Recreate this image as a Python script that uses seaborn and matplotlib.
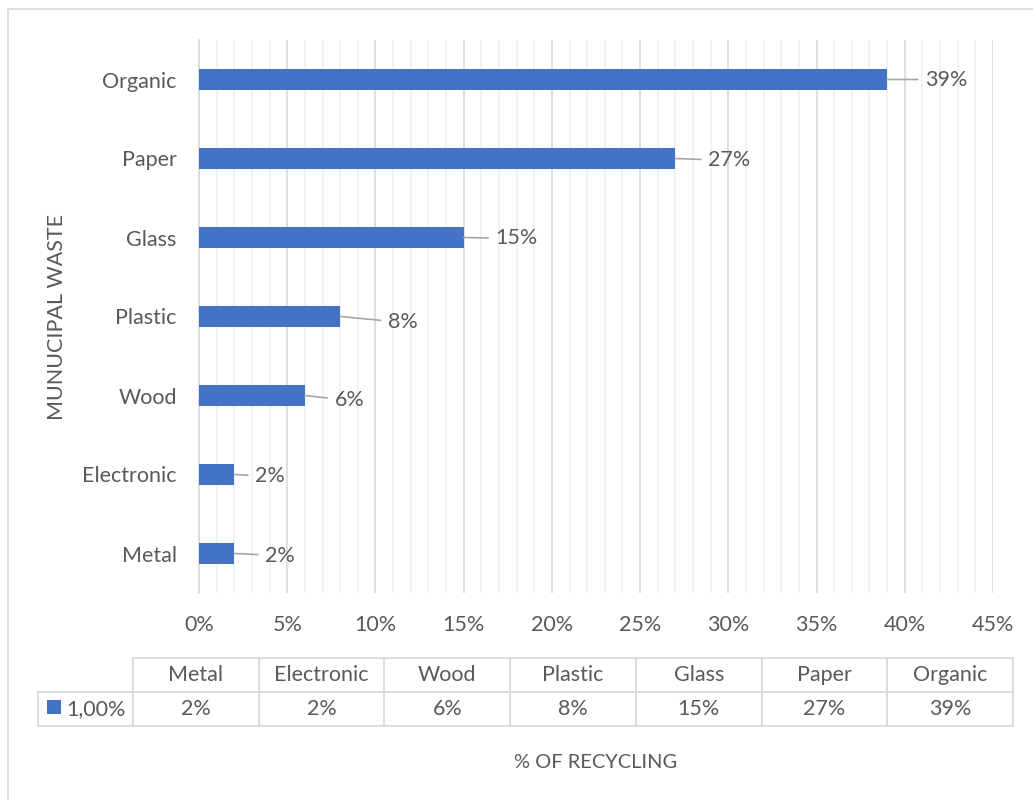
import matplotlib
matplotlib.use("Agg")
import matplotlib.pyplot as plt
from matplotlib.patches import Rectangle
from matplotlib.ticker import MultipleLocator, FuncFormatter, FixedLocator
import seaborn as sns
import pandas as pd

# Share of recycling by municipal waste type (%)
categories = ["Organic", "Paper", "Glass", "Plastic", "Wood", "Electronic", "Metal"]
values = [39, 27, 15, 8, 6, 2, 2]
series_name = "1,00%"
x_title = "% OF RECYCLING"
y_title = "MUNUCIPAL WASTE"

# label offsets (pixels right, pixels up) for the callouts
label_offsets = [(38, 0), (33, -2), (32, -1), (48, -6), (30, -5), (21, -2), (31, -2)]

BAR = "#4472C4"
TXT = "#595959"
GRID_MAJOR = "#d9d9d9"
GRID_MINOR = "#f0f0f0"
FS = 15.5

sns.set_theme(style="white")
plt.rcParams["font.family"] = ["Lato", "DejaVu Sans"]

W, H = 1033, 800
fig = plt.figure(figsize=(W / 100, H / 100), dpi=100)

# outer chart frame
fig.patches.append(Rectangle((8 / W, -0.05), 1.2, 1 - 9 / H + 0.05,
                             transform=fig.transFigure, fill=False,
                             edgecolor="#d9d9d9", linewidth=1.2))

left, right, top, bottom = 199, 993, 40, 593
ax = fig.add_axes([left / W, 1 - bottom / H, (right - left) / W, (bottom - top) / H])

df = pd.DataFrame({"category": categories, "value": values})
sns.barplot(data=df, x="value", y="category", orient="h", color=BAR,
            width=0.27, linewidth=0, ax=ax, zorder=3, saturation=1)

ax.set_xlim(0, 45)
ax.set_ylim(len(categories) - 0.5, -0.5)
ax.xaxis.set_major_locator(MultipleLocator(5))
ax.xaxis.set_minor_locator(MultipleLocator(1))
ax.xaxis.set_major_formatter(FuncFormatter(lambda v, p: f"{v:.0f}%"))
ax.grid(which="major", axis="x", color=GRID_MAJOR, linewidth=1.2, zorder=0)
ax.grid(which="minor", axis="x", color=GRID_MINOR, linewidth=1.2, zorder=0)
ax.grid(False, axis="y")
ax.set_axisbelow(True)

for s in ["top", "right", "bottom"]:
    ax.spines[s].set_visible(False)
ax.spines["left"].set_color(GRID_MAJOR)
ax.spines["left"].set_linewidth(1.2)

ax.tick_params(axis="x", which="both", length=0, pad=16, labelsize=FS, labelcolor=TXT)
ax.tick_params(axis="y", which="major", length=0, pad=16, labelsize=FS, labelcolor=TXT)
ax.yaxis.set_minor_locator(FixedLocator([i - 0.5 for i in range(len(categories) + 1)]))
ax.tick_params(axis="y", which="minor", length=5, width=1.2, color=GRID_MAJOR, direction="out")
ax.set_xlabel("")
ax.set_ylabel("")

# value callouts with leader lines
for i, (v, (dx, dy)) in enumerate(zip(values, label_offsets)):
    ax.annotate(f"{v}%", xy=(v, i), xytext=(dx * 0.72, dy * 0.72),
                textcoords="offset points", ha="left", va="center",
                fontsize=FS, color=TXT, zorder=5,
                arrowprops=dict(arrowstyle="-", color="#a6a6a6", linewidth=1.2,
                                shrinkA=3, shrinkB=0))

# data table under the chart, laid out in pixel units
tab_left, tab_right, tab_top, tab_bottom = 38, 1013, 658, 726
lab_right = 133
row_mid = (tab_top + tab_bottom) / 2
col_w = (tab_right - lab_right) / len(categories)

tax = fig.add_axes([0, 0, 1, 1], zorder=4)
tax.set_xlim(0, W)
tax.set_ylim(H, 0)
tax.set_axis_off()
tax.patch.set_alpha(0)

table_order = categories[::-1]
table_vals = values[::-1]
lk = dict(color=GRID_MAJOR, linewidth=1.3, solid_capstyle="projecting")
# horizontal rules
tax.plot([lab_right, tab_right], [tab_top, tab_top], **lk)
tax.plot([tab_left, tab_right], [row_mid, row_mid], **lk)
tax.plot([tab_left, tab_right], [tab_bottom, tab_bottom], **lk)
# vertical rules
tax.plot([tab_left, tab_left], [row_mid, tab_bottom], **lk)
for j in range(len(categories) + 1):
    xj = lab_right + j * col_w
    tax.plot([xj, xj], [tab_top, tab_bottom], **lk)

for j, (c, v) in enumerate(zip(table_order, table_vals)):
    xc = lab_right + (j + 0.5) * col_w
    tax.text(xc, (tab_top + row_mid) / 2, c, ha="center", va="center",
             fontsize=FS, color=TXT)
    tax.text(xc, (row_mid + tab_bottom) / 2, f"{v}%", ha="center", va="center",
             fontsize=FS, color=TXT)

# legend key and series name
tax.add_patch(Rectangle((47, 700), 14, 14, facecolor=BAR, edgecolor="none"))
tax.text(lab_right - 7, (row_mid + tab_bottom) / 2, series_name, ha="right",
         va="center", fontsize=FS, color=TXT)

fig.text((left + right) / 2 / W, 1 - 762 / H, x_title, ha="center", va="center",
         fontsize=14.4, color=TXT)
fig.text(57 / W, 1 - 317 / H, y_title, ha="center", va="center", rotation=90,
         fontsize=15.5, color=TXT)

fig.savefig("out.png", dpi=100, facecolor="white")
